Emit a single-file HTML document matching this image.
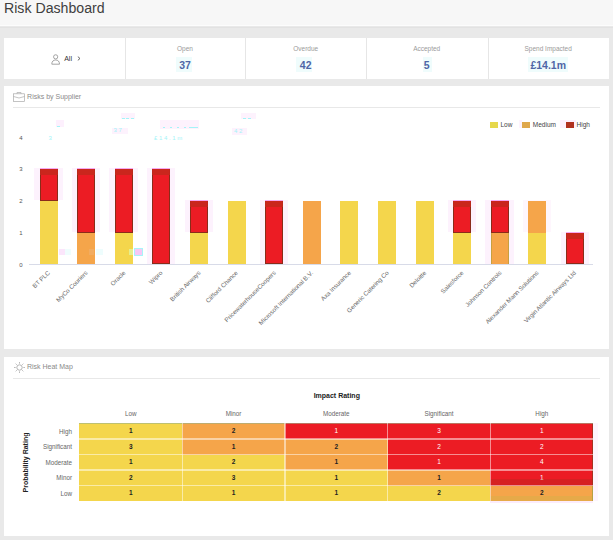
<!DOCTYPE html>
<html><head><meta charset="utf-8"><style>
html,body{margin:0;padding:0;}
body{width:613px;height:540px;overflow:hidden;position:relative;background:#e9e9e9;font-family:"Liberation Sans", sans-serif;}
.a{position:absolute;white-space:nowrap;}
.card{position:absolute;background:#fff;}
</style></head><body>

<div class="a" style="left:0;top:0;width:613px;height:24.8px;background:#f7f7f7"></div>
<div class="a" style="left:0;top:24.8px;width:613px;height:1.7px;background:#fcfcfc"></div>
<div class="a" style="left:0;top:27px;width:613px;height:1px;background:#e2e2e2"></div>
<div class="a" style="left:4px;top:-1.5px;font-size:14.15px;line-height:18px;color:#404040">Risk Dashboard</div>
<div class="card" style="left:4px;top:37.5px;width:605px;height:41px"></div>
<div class="a" style="left:124.5px;top:37.5px;width:1px;height:41px;background:#e6e6e6"></div>
<div class="a" style="left:245.2px;top:37.5px;width:1px;height:41px;background:#e6e6e6"></div>
<div class="a" style="left:366px;top:37.5px;width:1px;height:41px;background:#e6e6e6"></div>
<div class="a" style="left:487.5px;top:37.5px;width:1px;height:41px;background:#e6e6e6"></div>
<svg class="a" style="left:50.5px;top:53.5px" width="10" height="11" viewBox="0 0 10 11"><circle cx="4.65" cy="2.85" r="2.1" fill="none" stroke="#888" stroke-width="0.75"/><path d="M0.8,10.2 C0.8,7.3 2.4,6 4.65,6 C6.9,6 8.5,7.3 8.5,10.2 Z" fill="none" stroke="#888" stroke-width="0.75"/></svg>
<div class="a" style="left:64.2px;top:53.5px;font-size:7px;line-height:9px;color:#333">All</div>
<svg class="a" style="left:77px;top:56px" width="4" height="5" viewBox="0 0 4 5"><path d="M0.8,0.6 L3,2.5 L0.8,4.4" fill="none" stroke="#444" stroke-width="0.8"/></svg>
<div class="a" style="left:145px;width:80px;text-align:center;top:45px;font-size:6.5px;line-height:8px;color:#9a9a9a">Open</div>
<div class="a" style="left:176.20000000000002px;top:56.5px;width:15.7px;height:15.6px;background:#effcfc"></div>
<div class="a" style="left:145px;width:80px;text-align:center;top:59.3px;font-size:10.5px;line-height:13px;font-weight:bold;color:#4f66a6">37</div>
<div class="a" style="left:265.7px;width:80px;text-align:center;top:45px;font-size:6.5px;line-height:8px;color:#9a9a9a">Overdue</div>
<div class="a" style="left:295.90000000000003px;top:56.5px;width:16.3px;height:15.6px;background:#effcfc"></div>
<div class="a" style="left:265.7px;width:80px;text-align:center;top:59.3px;font-size:10.5px;line-height:13px;font-weight:bold;color:#4f66a6">42</div>
<div class="a" style="left:386.7px;width:80px;text-align:center;top:45px;font-size:6.5px;line-height:8px;color:#9a9a9a">Accepted</div>
<div class="a" style="left:423.2px;top:56.5px;width:9px;height:15.6px;background:#effcfc"></div>
<div class="a" style="left:386.7px;width:80px;text-align:center;top:59.3px;font-size:10.5px;line-height:13px;font-weight:bold;color:#4f66a6">5</div>
<div class="a" style="left:508.20000000000005px;width:80px;text-align:center;top:45px;font-size:6.5px;line-height:8px;color:#9a9a9a">Spend Impacted</div>
<div class="a" style="left:528.1px;top:56.5px;width:40px;height:15.6px;background:#effcfc"></div>
<div class="a" style="left:508.20000000000005px;width:80px;text-align:center;top:59.3px;font-size:10.5px;line-height:13px;font-weight:bold;color:#4f66a6">£14.1m</div>
<div class="card" style="left:4px;top:86px;width:605px;height:263px"></div>
<svg class="a" style="left:13px;top:92px" width="12" height="10" viewBox="0 0 12 10"><rect x="0.5" y="1.8" width="11" height="7.7" fill="none" stroke="#aaa" stroke-width="0.7"/><path d="M4,1.8 V0.5 H8 V1.8 M0.5,4.5 L6,6 L11.5,4.5" fill="none" stroke="#aaa" stroke-width="0.7"/></svg>
<div class="a" style="left:27.1px;top:92.2px;font-size:7px;line-height:9px;color:#8a8a8a">Risks by Supplier</div>
<div class="a" style="left:13px;top:107px;width:587px;height:1px;background:#e8e8e8"></div>
<div class="a" style="left:56.3px;top:120.2px;width:7.4px;height:7.3px;background:#fdf0fd"></div>
<div class="a" style="left:111.8px;top:127.5px;width:16.3px;height:6.5px;background:#fdf2fd"></div>
<div class="a" style="left:120.8px;top:113px;width:14.6px;height:6.3px;background:#fdf2fd"></div>
<div class="a" style="left:160.1px;top:120px;width:39.3px;height:9px;background:#fdf2fd"></div>
<div class="a" style="left:232.3px;top:127.9px;width:14.8px;height:7.4px;background:#fdf2fd"></div>
<div class="a" style="left:240.7px;top:113px;width:14.9px;height:6.4px;background:#fdf2fd"></div>
<div class="a" style="left:113.5px;top:127.2px;font-size:6px;line-height:7px;color:#a4f4f8">3 7</div>
<div class="a" style="left:234px;top:127.6px;font-size:6px;line-height:7px;color:#a4f4f8">4 2</div>
<div class="a" style="left:48.5px;top:135.2px;font-size:6px;line-height:7px;color:#a4f4f8">3</div>
<div class="a" style="left:154px;top:134.6px;font-size:6px;line-height:7px;color:#a4f4f8">£ 1 4 . 1 m</div>
<div class="a" style="left:57px;top:125.5px;width:3px;height:1px;background:#a4f4f8"></div>
<div class="a" style="left:122px;top:117.5px;width:3px;height:1px;background:#a4f4f8"></div>
<div class="a" style="left:126px;top:117.5px;width:3px;height:1px;background:#a4f4f8"></div>
<div class="a" style="left:130.5px;top:117.5px;width:3px;height:1px;background:#a4f4f8"></div>
<div class="a" style="left:163px;top:126.5px;width:2px;height:1px;background:#a4f4f8"></div>
<div class="a" style="left:170px;top:126.5px;width:2px;height:1px;background:#a4f4f8"></div>
<div class="a" style="left:177px;top:126.5px;width:2px;height:1px;background:#a4f4f8"></div>
<div class="a" style="left:184px;top:126.5px;width:2px;height:1px;background:#a4f4f8"></div>
<div class="a" style="left:189px;top:126.5px;width:9px;height:1px;background:#a4f4f8"></div>
<div class="a" style="left:243px;top:117.5px;width:3px;height:1px;background:#a4f4f8"></div>
<div class="a" style="left:248px;top:117.5px;width:3px;height:1px;background:#a4f4f8"></div>
<div class="a" style="left:10px;width:12.5px;text-align:right;top:261.0px;font-size:6px;line-height:9px;color:#555">0</div>
<div class="a" style="left:10px;width:12.5px;text-align:right;top:229.15px;font-size:6px;line-height:9px;color:#555">1</div>
<div class="a" style="left:10px;width:12.5px;text-align:right;top:197.3px;font-size:6px;line-height:9px;color:#555">2</div>
<div class="a" style="left:10px;width:12.5px;text-align:right;top:165.45px;font-size:6px;line-height:9px;color:#555">3</div>
<div class="a" style="left:10px;width:12.5px;text-align:right;top:133.6px;font-size:6px;line-height:9px;color:#555">4</div>
<div class="a" style="left:28.8px;top:264.2px;width:564.7px;height:0.8px;background:#d8dbe8"></div>
<div class="a" style="left:34.1px;top:168.14999999999998px;width:28.5px;height:31.850000000000023px;background:#fdf2fd"></div>
<div class="a" style="left:71.7px;top:168.14999999999998px;width:28.5px;height:63.70000000000002px;background:#fdf2fd"></div>
<div class="a" style="left:109.3px;top:168.14999999999998px;width:28.5px;height:63.70000000000002px;background:#fdf2fd"></div>
<div class="a" style="left:146.9px;top:168.14999999999998px;width:28.5px;height:95.55000000000001px;background:#fdf2fd"></div>
<div class="a" style="left:184.50000000000003px;top:200.0px;width:28.5px;height:31.849999999999994px;background:#fdf2fd"></div>
<div class="a" style="left:259.7px;top:200.0px;width:28.5px;height:63.69999999999999px;background:#fdf2fd"></div>
<div class="a" style="left:447.70000000000005px;top:200.0px;width:28.5px;height:31.849999999999994px;background:#fdf2fd"></div>
<div class="a" style="left:485.3px;top:200.0px;width:28.5px;height:63.69999999999999px;background:#fdf2fd"></div>
<div class="a" style="left:522.9px;top:200.0px;width:28.5px;height:31.849999999999994px;background:#fef6fd"></div>
<div class="a" style="left:560.5px;top:231.85px;width:28.5px;height:31.849999999999994px;background:#fdf2fd"></div>
<div class="a" style="left:39.6px;top:200.8px;width:18px;height:63.69999999999999px;background:#f4d64c"></div>
<div class="a" style="left:39.6px;top:168.95000000000002px;width:18px;height:31.849999999999994px;background:#ec1c24;box-sizing:border-box;border:1.1px solid #8a2c1a;border-top:0"></div>
<div class="a" style="left:39.6px;top:168.95000000000002px;width:18px;height:6px;background:#c4281c;opacity:.85"></div>
<div class="a" style="left:39.6px;top:168.15px;width:18px;height:1px;background:#f7a8f0"></div>
<div class="a" style="right:564.2px;top:267.6px;font-size:6.2px;line-height:7px;color:#6a6a6a;transform-origin:100% 50%;transform:rotate(-45deg)">BT PLC</div>
<div class="a" style="left:77.2px;top:232.65px;width:18px;height:31.849999999999994px;background:#f5a54a"></div>
<div class="a" style="left:77.2px;top:168.95px;width:18px;height:63.70000000000002px;background:#ec1c24;box-sizing:border-box;border:1.1px solid #8a2c1a;border-top:0"></div>
<div class="a" style="left:77.2px;top:168.95px;width:18px;height:6px;background:#c4281c;opacity:.85"></div>
<div class="a" style="left:77.2px;top:168.14999999999998px;width:18px;height:1px;background:#f7a8f0"></div>
<div class="a" style="right:526.6px;top:267.6px;font-size:6.2px;line-height:7px;color:#6a6a6a;transform-origin:100% 50%;transform:rotate(-45deg)">MyCo Couriers</div>
<div class="a" style="left:114.8px;top:232.65px;width:18px;height:31.849999999999994px;background:#f4d64c"></div>
<div class="a" style="left:114.8px;top:168.95px;width:18px;height:63.70000000000002px;background:#ec1c24;box-sizing:border-box;border:1.1px solid #8a2c1a;border-top:0"></div>
<div class="a" style="left:114.8px;top:168.95px;width:18px;height:6px;background:#c4281c;opacity:.85"></div>
<div class="a" style="left:114.8px;top:168.14999999999998px;width:18px;height:1px;background:#f7a8f0"></div>
<div class="a" style="right:489.0px;top:267.6px;font-size:6.2px;line-height:7px;color:#6a6a6a;transform-origin:100% 50%;transform:rotate(-45deg)">Oracle</div>
<div class="a" style="left:152.4px;top:168.95px;width:18px;height:95.55000000000001px;background:#ec1c24;box-sizing:border-box;border:1.1px solid #8a2c1a;border-top:0"></div>
<div class="a" style="left:152.4px;top:168.95px;width:18px;height:6px;background:#c4281c;opacity:.85"></div>
<div class="a" style="left:152.4px;top:168.14999999999998px;width:18px;height:1px;background:#f7a8f0"></div>
<div class="a" style="right:451.4px;top:267.6px;font-size:6.2px;line-height:7px;color:#6a6a6a;transform-origin:100% 50%;transform:rotate(-45deg)">Wipro</div>
<div class="a" style="left:190.00000000000003px;top:232.65px;width:18px;height:31.849999999999994px;background:#f4d64c"></div>
<div class="a" style="left:190.00000000000003px;top:200.8px;width:18px;height:31.849999999999994px;background:#ec1c24;box-sizing:border-box;border:1.1px solid #8a2c1a;border-top:0"></div>
<div class="a" style="left:190.00000000000003px;top:200.8px;width:18px;height:6px;background:#c4281c;opacity:.85"></div>
<div class="a" style="left:190.00000000000003px;top:200.0px;width:18px;height:1px;background:#f7a8f0"></div>
<div class="a" style="right:413.79999999999995px;top:267.6px;font-size:6.2px;line-height:7px;color:#6a6a6a;transform-origin:100% 50%;transform:rotate(-45deg)">British Airways</div>
<div class="a" style="left:227.60000000000002px;top:200.8px;width:18px;height:63.69999999999999px;background:#f4d64c"></div>
<div class="a" style="right:376.2px;top:267.6px;font-size:6.2px;line-height:7px;color:#6a6a6a;transform-origin:100% 50%;transform:rotate(-45deg)">Clifford Chance</div>
<div class="a" style="left:265.2px;top:200.8px;width:18px;height:63.69999999999999px;background:#ec1c24;box-sizing:border-box;border:1.1px solid #8a2c1a;border-top:0"></div>
<div class="a" style="left:265.2px;top:200.8px;width:18px;height:6px;background:#c4281c;opacity:.85"></div>
<div class="a" style="left:265.2px;top:200.0px;width:18px;height:1px;background:#f7a8f0"></div>
<div class="a" style="right:338.6px;top:267.6px;font-size:6.2px;line-height:7px;color:#6a6a6a;transform-origin:100% 50%;transform:rotate(-45deg)">PricewaterhouseCoopers</div>
<div class="a" style="left:302.8px;top:200.8px;width:18px;height:63.69999999999999px;background:#f5a54a"></div>
<div class="a" style="right:301.0px;top:267.6px;font-size:6.2px;line-height:7px;color:#6a6a6a;transform-origin:100% 50%;transform:rotate(-45deg)">Microsoft International B.V.</div>
<div class="a" style="left:340.40000000000003px;top:200.8px;width:18px;height:63.69999999999999px;background:#f4d64c"></div>
<div class="a" style="right:263.4px;top:267.6px;font-size:6.2px;line-height:7px;color:#6a6a6a;transform-origin:100% 50%;transform:rotate(-45deg)">Axa Insurance</div>
<div class="a" style="left:378.0px;top:200.8px;width:18px;height:63.69999999999999px;background:#f4d64c"></div>
<div class="a" style="right:225.8px;top:267.6px;font-size:6.2px;line-height:7px;color:#6a6a6a;transform-origin:100% 50%;transform:rotate(-45deg)">Generic Catering Co</div>
<div class="a" style="left:415.6px;top:200.8px;width:18px;height:63.69999999999999px;background:#f4d64c"></div>
<div class="a" style="right:188.2px;top:267.6px;font-size:6.2px;line-height:7px;color:#6a6a6a;transform-origin:100% 50%;transform:rotate(-45deg)">Deloitte</div>
<div class="a" style="left:453.20000000000005px;top:232.65px;width:18px;height:31.849999999999994px;background:#f4d64c"></div>
<div class="a" style="left:453.20000000000005px;top:200.8px;width:18px;height:31.849999999999994px;background:#ec1c24;box-sizing:border-box;border:1.1px solid #8a2c1a;border-top:0"></div>
<div class="a" style="left:453.20000000000005px;top:200.8px;width:18px;height:6px;background:#c4281c;opacity:.85"></div>
<div class="a" style="left:453.20000000000005px;top:200.0px;width:18px;height:1px;background:#f7a8f0"></div>
<div class="a" style="right:150.59999999999997px;top:267.6px;font-size:6.2px;line-height:7px;color:#6a6a6a;transform-origin:100% 50%;transform:rotate(-45deg)">Salesforce</div>
<div class="a" style="left:490.8px;top:232.65px;width:18px;height:31.849999999999994px;background:#f5a54a;box-sizing:border-box;border-left:1.2px solid #c8a040;border-right:1.2px solid #c8a040"></div>
<div class="a" style="left:490.8px;top:200.8px;width:18px;height:31.849999999999994px;background:#ec1c24;box-sizing:border-box;border:1.1px solid #8a2c1a;border-top:0"></div>
<div class="a" style="left:490.8px;top:200.8px;width:18px;height:6px;background:#c4281c;opacity:.85"></div>
<div class="a" style="left:490.8px;top:200.0px;width:18px;height:1px;background:#f7a8f0"></div>
<div class="a" style="right:113.0px;top:267.6px;font-size:6.2px;line-height:7px;color:#6a6a6a;transform-origin:100% 50%;transform:rotate(-45deg)">Johnson Controls</div>
<div class="a" style="left:528.4px;top:232.65px;width:18px;height:31.849999999999994px;background:#f4d64c"></div>
<div class="a" style="left:528.4px;top:200.8px;width:18px;height:31.849999999999994px;background:#f5a54a"></div>
<div class="a" style="right:75.39999999999998px;top:267.6px;font-size:6.2px;line-height:7px;color:#6a6a6a;transform-origin:100% 50%;transform:rotate(-45deg)">Alexander Mann Solutions</div>
<div class="a" style="left:566.0px;top:232.65px;width:18px;height:31.849999999999994px;background:#ec1c24;box-sizing:border-box;border:1.1px solid #8a2c1a;border-top:0"></div>
<div class="a" style="left:566.0px;top:232.65px;width:18px;height:6px;background:#c4281c;opacity:.85"></div>
<div class="a" style="left:566.0px;top:231.85px;width:18px;height:1px;background:#f7a8f0"></div>
<div class="a" style="right:37.799999999999955px;top:267.6px;font-size:6.2px;line-height:7px;color:#6a6a6a;transform-origin:100% 50%;transform:rotate(-45deg)">Virgin Atlantic Airways Ltd</div>
<div class="a" style="left:59px;top:248.5px;width:6px;height:6.5px;background:#fbe6fb"></div>
<div class="a" style="left:65px;top:248.5px;width:6px;height:6.5px;background:#effdfd"></div>
<div class="a" style="left:89px;top:248.5px;width:5px;height:6.5px;background:#f0b070;opacity:.6"></div>
<div class="a" style="left:96px;top:248.5px;width:7px;height:6.5px;background:#eefdfd"></div>
<div class="a" style="left:128.5px;top:248.5px;width:4px;height:6.5px;background:#e0f5a0;opacity:.8"></div>
<div class="a" style="left:134px;top:248px;width:9px;height:7.5px;background:#f6c8f6;box-sizing:border-box;border:1px solid #a8f4f8"></div>
<div class="a" style="left:559.7px;top:120px;width:16.5px;height:8px;background:#fdeefd"></div>
<div class="a" style="left:518.5px;top:120px;width:3px;height:8px;background:#fdf3fd"></div>
<div class="a" style="left:490px;top:121.6px;width:8px;height:6px;background:#e6d84c"></div>
<div class="a" style="left:500.5px;top:120.8px;font-size:6.5px;line-height:8px;color:#444">Low</div>
<div class="a" style="left:522.3px;top:121.6px;width:8px;height:6px;background:#dfa84c"></div>
<div class="a" style="left:532.8px;top:120.8px;font-size:6.5px;line-height:8px;color:#444">Medium</div>
<div class="a" style="left:566px;top:121.6px;width:8px;height:6px;background:#b0301f"></div>
<div class="a" style="left:576.6px;top:120.8px;font-size:6.5px;line-height:8px;color:#444">High</div>
<div class="card" style="left:4px;top:357px;width:605px;height:179px"></div>
<svg class="a" style="left:13.5px;top:362.1px" width="11" height="11" viewBox="0 0 11 11"><circle cx="5.5" cy="5.5" r="2.7" fill="none" stroke="#aaa" stroke-width="0.9"/><path d="M5.5,0.1V1.6 M5.5,9.4V10.9 M0.1,5.5H1.6 M9.4,5.5H10.9 M1.68,1.68L2.74,2.74 M8.26,8.26L9.32,9.32 M1.68,9.32L2.74,8.26 M8.26,2.74L9.32,1.68" stroke="#aaa" stroke-width="0.9"/></svg>
<div class="a" style="left:26.9px;top:361.9px;font-size:7px;line-height:9px;color:#8a8a8a">Risk Heat Map</div>
<div class="a" style="left:13px;top:378px;width:587px;height:1px;background:#e8e8e8"></div>
<div class="a" style="left:286.8px;width:100px;text-align:center;top:390.6px;font-size:7px;line-height:9px;font-weight:bold;color:#222">Impact Rating</div>
<div class="a" style="left:90.78px;width:80px;text-align:center;top:409.5px;font-size:6.3px;line-height:8px;color:#666">Low</div>
<div class="a" style="left:193.54000000000002px;width:80px;text-align:center;top:409.5px;font-size:6.3px;line-height:8px;color:#666">Minor</div>
<div class="a" style="left:296.30000000000007px;width:80px;text-align:center;top:409.5px;font-size:6.3px;line-height:8px;color:#666">Moderate</div>
<div class="a" style="left:399.06000000000006px;width:80px;text-align:center;top:409.5px;font-size:6.3px;line-height:8px;color:#666">Significant</div>
<div class="a" style="left:501.82000000000005px;width:80px;text-align:center;top:409.5px;font-size:6.3px;line-height:8px;color:#666">High</div>
<div class="a" style="left:20px;width:52px;text-align:right;top:426.69px;font-size:6.3px;line-height:9px;color:#666">High</div>
<div class="a" style="left:79.4px;top:423.4px;width:102.76px;height:15.58px;background:#f4d64c"></div>
<div class="a" style="left:79.4px;width:102.76px;text-align:center;top:427.0px;font-size:6.5px;line-height:8px;font-weight:bold;color:#222">1</div>
<div class="a" style="left:182.16000000000003px;top:423.4px;width:102.76px;height:15.58px;background:#f5a54a"></div>
<div class="a" style="left:182.16000000000003px;width:102.76px;text-align:center;top:427.0px;font-size:6.5px;line-height:8px;font-weight:bold;color:#222">2</div>
<div class="a" style="left:284.92px;top:423.4px;width:102.76px;height:15.58px;background:#ec1c24"></div>
<div class="a" style="left:284.92px;width:102.76px;text-align:center;top:427.0px;font-size:6.5px;line-height:8px;font-weight:normal;color:#fff">1</div>
<div class="a" style="left:387.68000000000006px;top:423.4px;width:102.76px;height:15.58px;background:#ec1c24"></div>
<div class="a" style="left:387.68000000000006px;width:102.76px;text-align:center;top:427.0px;font-size:6.5px;line-height:8px;font-weight:normal;color:#fff">3</div>
<div class="a" style="left:490.44000000000005px;top:423.4px;width:102.76px;height:15.58px;background:#ec1c24"></div>
<div class="a" style="left:490.44000000000005px;width:102.76px;text-align:center;top:427.0px;font-size:6.5px;line-height:8px;font-weight:normal;color:#fff">1</div>
<div class="a" style="left:20px;width:52px;text-align:right;top:442.27px;font-size:6.3px;line-height:9px;color:#666">Significant</div>
<div class="a" style="left:79.4px;top:438.97999999999996px;width:102.76px;height:15.58px;background:#f4d64c"></div>
<div class="a" style="left:79.4px;width:102.76px;text-align:center;top:442.58px;font-size:6.5px;line-height:8px;font-weight:bold;color:#222">3</div>
<div class="a" style="left:182.16000000000003px;top:438.97999999999996px;width:102.76px;height:15.58px;background:#f5a54a"></div>
<div class="a" style="left:182.16000000000003px;width:102.76px;text-align:center;top:442.58px;font-size:6.5px;line-height:8px;font-weight:bold;color:#222">1</div>
<div class="a" style="left:284.92px;top:438.97999999999996px;width:102.76px;height:15.58px;background:#f5a54a"></div>
<div class="a" style="left:284.92px;width:102.76px;text-align:center;top:442.58px;font-size:6.5px;line-height:8px;font-weight:bold;color:#222">2</div>
<div class="a" style="left:387.68000000000006px;top:438.97999999999996px;width:102.76px;height:15.58px;background:#ec1c24"></div>
<div class="a" style="left:387.68000000000006px;width:102.76px;text-align:center;top:442.58px;font-size:6.5px;line-height:8px;font-weight:normal;color:#fff">2</div>
<div class="a" style="left:490.44000000000005px;top:438.97999999999996px;width:102.76px;height:15.58px;background:#ec1c24"></div>
<div class="a" style="left:490.44000000000005px;width:102.76px;text-align:center;top:442.58px;font-size:6.5px;line-height:8px;font-weight:normal;color:#fff">2</div>
<div class="a" style="left:20px;width:52px;text-align:right;top:457.84999999999997px;font-size:6.3px;line-height:9px;color:#666">Moderate</div>
<div class="a" style="left:79.4px;top:454.56px;width:102.76px;height:15.58px;background:#f4d64c"></div>
<div class="a" style="left:79.4px;width:102.76px;text-align:center;top:458.16px;font-size:6.5px;line-height:8px;font-weight:bold;color:#222">1</div>
<div class="a" style="left:182.16000000000003px;top:454.56px;width:102.76px;height:15.58px;background:#f4d64c"></div>
<div class="a" style="left:182.16000000000003px;width:102.76px;text-align:center;top:458.16px;font-size:6.5px;line-height:8px;font-weight:bold;color:#222">2</div>
<div class="a" style="left:284.92px;top:454.56px;width:102.76px;height:15.58px;background:#f5a54a"></div>
<div class="a" style="left:284.92px;width:102.76px;text-align:center;top:458.16px;font-size:6.5px;line-height:8px;font-weight:bold;color:#222">1</div>
<div class="a" style="left:387.68000000000006px;top:454.56px;width:102.76px;height:15.58px;background:#ec1c24"></div>
<div class="a" style="left:387.68000000000006px;width:102.76px;text-align:center;top:458.16px;font-size:6.5px;line-height:8px;font-weight:normal;color:#fff">1</div>
<div class="a" style="left:490.44000000000005px;top:454.56px;width:102.76px;height:15.58px;background:#ec1c24"></div>
<div class="a" style="left:490.44000000000005px;width:102.76px;text-align:center;top:458.16px;font-size:6.5px;line-height:8px;font-weight:normal;color:#fff">4</div>
<div class="a" style="left:20px;width:52px;text-align:right;top:473.42999999999995px;font-size:6.3px;line-height:9px;color:#666">Minor</div>
<div class="a" style="left:79.4px;top:470.14px;width:102.76px;height:15.58px;background:#f4d64c"></div>
<div class="a" style="left:79.4px;width:102.76px;text-align:center;top:473.74px;font-size:6.5px;line-height:8px;font-weight:bold;color:#222">2</div>
<div class="a" style="left:182.16000000000003px;top:470.14px;width:102.76px;height:15.58px;background:#f4d64c"></div>
<div class="a" style="left:182.16000000000003px;width:102.76px;text-align:center;top:473.74px;font-size:6.5px;line-height:8px;font-weight:bold;color:#222">3</div>
<div class="a" style="left:284.92px;top:470.14px;width:102.76px;height:15.58px;background:#f4d64c"></div>
<div class="a" style="left:284.92px;width:102.76px;text-align:center;top:473.74px;font-size:6.5px;line-height:8px;font-weight:bold;color:#222">1</div>
<div class="a" style="left:387.68000000000006px;top:470.14px;width:102.76px;height:15.58px;background:#f5a54a"></div>
<div class="a" style="left:387.68000000000006px;width:102.76px;text-align:center;top:473.74px;font-size:6.5px;line-height:8px;font-weight:bold;color:#222">1</div>
<div class="a" style="left:490.44000000000005px;top:470.14px;width:102.76px;height:15.58px;background:#ec1c24"></div>
<div class="a" style="left:490.44000000000005px;width:102.76px;text-align:center;top:473.74px;font-size:6.5px;line-height:8px;font-weight:normal;color:#fff">1</div>
<div class="a" style="left:20px;width:52px;text-align:right;top:489.01px;font-size:6.3px;line-height:9px;color:#666">Low</div>
<div class="a" style="left:79.4px;top:485.71999999999997px;width:102.76px;height:15.58px;background:#f4d64c"></div>
<div class="a" style="left:79.4px;width:102.76px;text-align:center;top:489.32px;font-size:6.5px;line-height:8px;font-weight:bold;color:#222">1</div>
<div class="a" style="left:182.16000000000003px;top:485.71999999999997px;width:102.76px;height:15.58px;background:#f4d64c"></div>
<div class="a" style="left:182.16000000000003px;width:102.76px;text-align:center;top:489.32px;font-size:6.5px;line-height:8px;font-weight:bold;color:#222">1</div>
<div class="a" style="left:284.92px;top:485.71999999999997px;width:102.76px;height:15.58px;background:#f4d64c"></div>
<div class="a" style="left:284.92px;width:102.76px;text-align:center;top:489.32px;font-size:6.5px;line-height:8px;font-weight:bold;color:#222">1</div>
<div class="a" style="left:387.68000000000006px;top:485.71999999999997px;width:102.76px;height:15.58px;background:#f4d64c"></div>
<div class="a" style="left:387.68000000000006px;width:102.76px;text-align:center;top:489.32px;font-size:6.5px;line-height:8px;font-weight:bold;color:#222">2</div>
<div class="a" style="left:490.44000000000005px;top:485.71999999999997px;width:102.76px;height:15.58px;background:#f5a54a"></div>
<div class="a" style="left:490.44000000000005px;width:102.76px;text-align:center;top:489.32px;font-size:6.5px;line-height:8px;font-weight:bold;color:#222">2</div>
<div class="a" style="left:593.2px;top:423.4px;width:5px;height:77.9px;background:#fdf5fd"></div>
<div class="a" style="left:490.44000000000005px;top:501.29999999999995px;width:102.76px;height:2px;background:#fcecfc"></div>
<div class="a" style="left:592.2px;top:423.4px;width:1px;height:62.32px;background:#8a3a20;opacity:.7"></div>
<div class="a" style="left:592.2px;top:485.71999999999997px;width:1px;height:15.58px;background:#a8a040;opacity:.8"></div>
<div class="a" style="left:490.44000000000005px;top:479.14px;width:101.76px;height:6.58px;background:#b02a20;opacity:.35"></div>
<div class="a" style="left:490.44000000000005px;top:495.71999999999997px;width:101.76px;height:5.58px;background:#dcae4a;opacity:.6"></div>
<div class="a" style="left:79.4px;top:422.79999999999995px;width:513.8000000000001px;height:0.6px;background:#9ab08a;opacity:.6"></div>
<div class="a" style="left:181.51000000000002px;top:423.4px;width:1.3px;height:77.9px;background:rgba(255,255,255,.5)"></div>
<div class="a" style="left:284.27000000000004px;top:423.4px;width:1.3px;height:77.9px;background:rgba(255,255,255,.5)"></div>
<div class="a" style="left:387.0300000000001px;top:423.4px;width:1.3px;height:77.9px;background:rgba(255,255,255,.5)"></div>
<div class="a" style="left:489.7900000000001px;top:423.4px;width:1.3px;height:77.9px;background:rgba(255,255,255,.5)"></div>
<div class="a" style="left:79.4px;top:438.33px;width:513.8000000000001px;height:1.3px;background:rgba(255,255,255,.5)"></div>
<div class="a" style="left:79.4px;top:453.91px;width:513.8000000000001px;height:1.3px;background:rgba(255,255,255,.5)"></div>
<div class="a" style="left:79.4px;top:469.49px;width:513.8000000000001px;height:1.3px;background:rgba(255,255,255,.5)"></div>
<div class="a" style="left:79.4px;top:485.07px;width:513.8000000000001px;height:1.3px;background:rgba(255,255,255,.5)"></div>
<div class="a" style="left:-4.8px;top:457.8px;width:60px;text-align:center;font-size:7px;line-height:9px;font-weight:bold;color:#222;transform:rotate(-90deg)">Probability Rating</div>
</body></html>
